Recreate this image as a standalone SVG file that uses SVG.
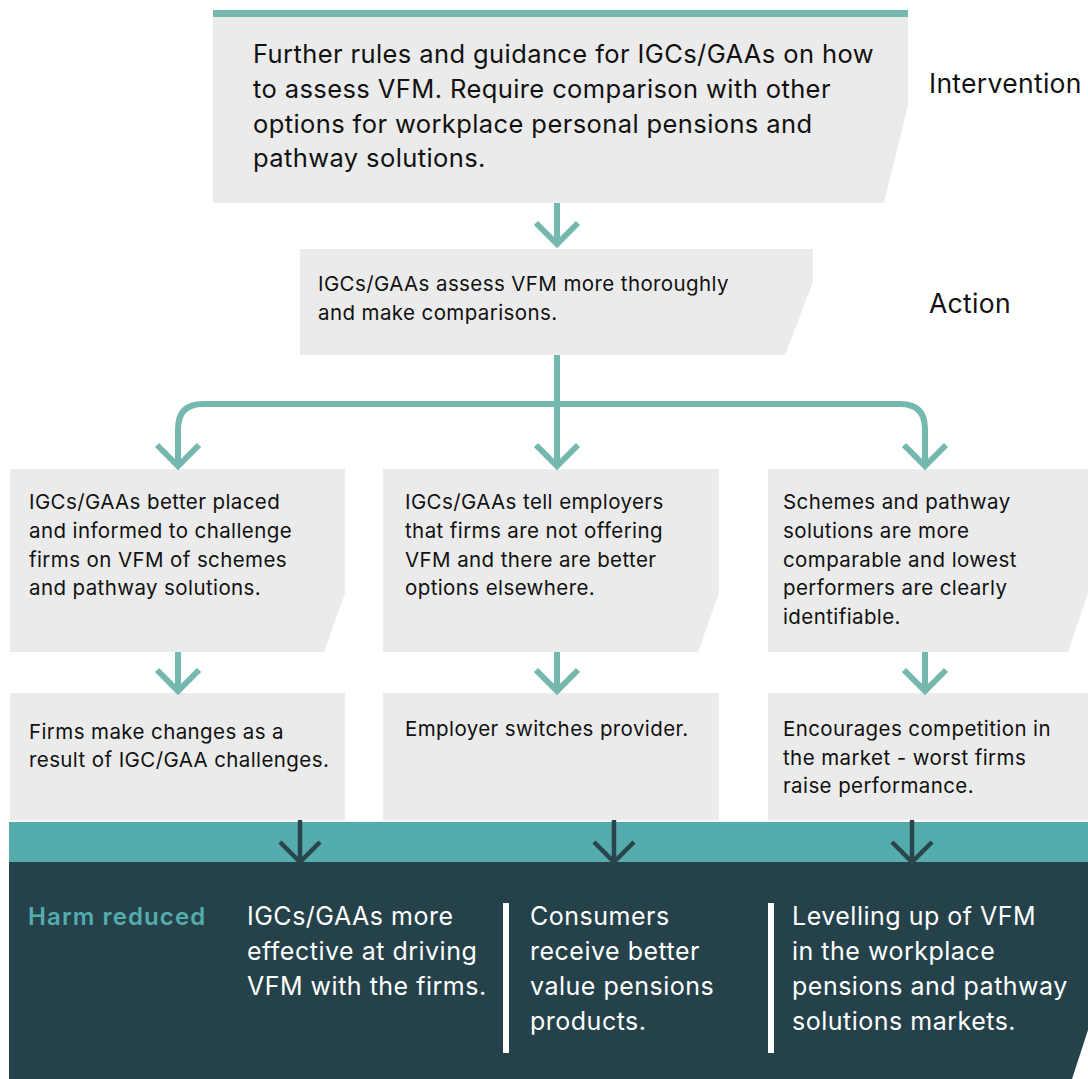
<svg xmlns="http://www.w3.org/2000/svg" width="1088" height="1079" viewBox="0 0 1088 1079">
<style>
.box{fill:#ebebeb}
.t{font-family:Inter,"Liberation Sans",Arial,sans-serif;fill:#111;}
.big{font-size:25.5px;letter-spacing:0.4px}
.lab{font-size:26.5px;letter-spacing:0.3px}
.mid{font-size:20.5px;letter-spacing:0.4px}
.wt{font-family:Inter,"Liberation Sans",Arial,sans-serif;fill:#fff;font-size:25px;letter-spacing:0.5px}
.ln{fill:none;stroke:#74b8ae;stroke-width:6}
.dk{fill:none;stroke:#2b454d;stroke-width:4.5}
</style>
<rect width="1088" height="1079" fill="#fff"/>
<g id="intervention">
<rect x="213" y="10" width="695" height="7" fill="#74b8ae"/>
<polygon class="box" points="213,17 908,17 908,105 884,203 213,203"/>
<text class="t big" x="253" y="63">Further rules and guidance for IGCs/GAAs on how</text>
<text class="t big" x="253" y="98">to assess VFM. Require comparison with other</text>
<text class="t big" x="253" y="133">options for workplace personal pensions and</text>
<text class="t big" x="253" y="167">pathway solutions.</text>
</g>
<g id="label-intervention"><text class="t lab" x="929" y="93">Intervention</text></g>
<g id="action">
<polygon class="box" points="300,249 813,249 813,282 785,355 300,355"/>
<text class="t mid" x="318" y="291">IGCs/GAAs assess VFM more thoroughly</text>
<text class="t mid" x="318" y="320">and make comparisons.</text>
</g>
<g id="label-action"><text class="t lab" x="929" y="313">Action</text></g>
<g id="outcome-a">
<polygon class="box" points="10,469 345,469 345,593 324,652 10,652"/>
<text class="t mid" x="29" y="509">IGCs/GAAs better placed</text>
<text class="t mid" x="29" y="538">and informed to challenge</text>
<text class="t mid" x="29" y="567">firms on VFM of schemes</text>
<text class="t mid" x="29" y="595">and pathway solutions.</text>
</g>
<g id="outcome-b">
<polygon class="box" points="383,469 719,469 719,593 698,652 383,652"/>
<text class="t mid" x="405" y="509">IGCs/GAAs tell employers</text>
<text class="t mid" x="405" y="538">that firms are not offering</text>
<text class="t mid" x="405" y="567">VFM and there are better</text>
<text class="t mid" x="405" y="595">options elsewhere.</text>
</g>
<g id="outcome-c">
<polygon class="box" points="768,469 1088,469 1088,593 1068,652 768,652"/>
<text class="t mid" x="783" y="509">Schemes and pathway</text>
<text class="t mid" x="783" y="538">solutions are more</text>
<text class="t mid" x="783" y="567">comparable and lowest</text>
<text class="t mid" x="783" y="595">performers are clearly</text>
<text class="t mid" x="783" y="624">identifiable.</text>
</g>
<g id="result-a">
<rect class="box" x="10" y="693" width="335" height="127"/>
<text class="t mid" x="29" y="739">Firms make changes as a</text>
<text class="t mid" x="29" y="767">result of IGC/GAA challenges.</text>
</g>
<g id="result-b">
<rect class="box" x="383" y="693" width="336" height="127"/>
<text class="t mid" x="405" y="736">Employer switches provider.</text>
</g>
<g id="result-c">
<rect class="box" x="768" y="693" width="320" height="127"/>
<text class="t mid" x="783" y="736">Encourages competition in</text>
<text class="t mid" x="783" y="765">the market - worst firms</text>
<text class="t mid" x="783" y="793">raise performance.</text>
</g>
<g id="harm-reduced">
<rect x="9" y="822" width="1079" height="40" fill="#55acad"/>
<polygon points="9,862 1088,862 1088,1030 1072,1079 9,1079" fill="#25424b"/>
<rect x="503" y="903" width="6" height="150" fill="#fff"/>
<rect x="768" y="903" width="6" height="150" fill="#fff"/>
<text x="28" y="925" font-family="Inter,Liberation Sans,Arial,sans-serif" font-size="24" font-weight="600" letter-spacing="1.1" fill="#55acad">Harm reduced</text>
<text class="wt" x="247" y="925">IGCs/GAAs more</text>
<text class="wt" x="247" y="960">effective at driving</text>
<text class="wt" x="247" y="995">VFM with the firms.</text>
<text class="wt" x="530" y="925">Consumers</text>
<text class="wt" x="530" y="960">receive better</text>
<text class="wt" x="530" y="995">value pensions</text>
<text class="wt" x="530" y="1030">products.</text>
<text class="wt" x="792" y="925">Levelling up of VFM</text>
<text class="wt" x="792" y="960">in the workplace</text>
<text class="wt" x="792" y="995">pensions and pathway</text>
<text class="wt" x="792" y="1030">solutions markets.</text>
</g>
<g id="connectors">
<path class="ln" d="M557,203 V243"/>
<polyline class="ln" points="536,223 557,244 578,223"/>
<path class="ln" d="M557,355 V465"/>
<path class="ln" d="M178,465 V429 Q178,404 203,404 H900 Q925,404 925,429 V465"/>
<polyline class="ln" points="157,445 178,466 199,445"/>
<polyline class="ln" points="536,445 557,466 578,445"/>
<polyline class="ln" points="904,445 925,466 946,445"/>
<path class="ln" d="M178,652 V690"/>
<path class="ln" d="M557,652 V690"/>
<path class="ln" d="M925,652 V690"/>
<polyline class="ln" points="157,670 178,691 199,670"/>
<polyline class="ln" points="536,670 557,691 578,670"/>
<polyline class="ln" points="904,670 925,691 946,670"/>
<path class="dk" d="M300,820 V860"/>
<path class="dk" d="M614,820 V860"/>
<path class="dk" d="M912,820 V860"/>
<polyline class="dk" points="280,842 300,862 320,842"/>
<polyline class="dk" points="594,842 614,862 634,842"/>
<polyline class="dk" points="892,842 912,862 932,842"/>
</g>
</svg>
